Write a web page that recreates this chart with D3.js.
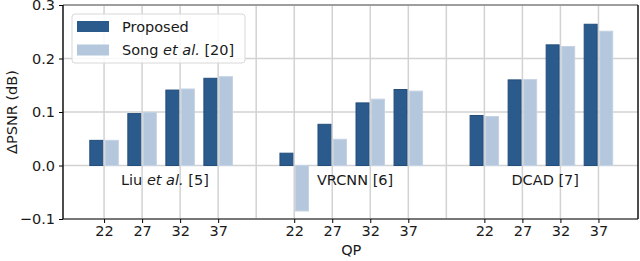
<!DOCTYPE html>
<html>
<head>
<meta charset="utf-8">
<script src="https://cdn.jsdelivr.net/npm/d3@7"></script>
<style>
  body { margin: 0; background: #fff; }
  text { font-family: "DejaVu Sans", sans-serif; fill: #1a1a1a; }
</style>
</head>
<body>
<script>
// data
const groups = ["Liu", "VRCNN", "DCAD"];
const groupLabels = [["Liu ", "et al.", " [5]"], ["VRCNN [6]"], ["DCAD [7]"]];
const qps = ["22", "27", "32", "37"];
const proposed = [0.047, 0.097, 0.141, 0.163,  0.023, 0.077, 0.117, 0.142,  0.0935, 0.160, 0.2255, 0.264];
const song     = [0.047, 0.099, 0.143, 0.166, -0.085, 0.049, 0.124, 0.139,  0.0915, 0.1605, 0.2225, 0.251];
const yTicks = [-0.1, 0.0, 0.1, 0.2, 0.3];

const WIDTH = 640, HEIGHT = 261;
const M = { top: 5, right: 2, bottom: 42, left: 63 };

const svg = d3.select('body').append('svg')
  .attr('width', WIDTH).attr('height', HEIGHT);

// x positions: 4 QPs per group, one empty slot between groups
const slots = [];
groups.forEach((g, gi) => qps.forEach((q, qi) => slots.push({ g: gi, q: q, pos: gi * 5 + qi })));
const allPos = d3.range(0, 14);

const x = d3.scaleLinear().domain([-1.08, 14.04]).range([M.left, WIDTH - M.right]);
const y = d3.scaleLinear().domain([-0.1, 0.3]).range([HEIGHT - M.bottom, M.top]);

const colProp = '#2b5a8d', colSong = '#b5c7dc';
const bw = 0.34, off = 0.205;

// grid
svg.append('g').selectAll('line').data(allPos).enter().append('line')
  .attr('x1', d => x(d)).attr('x2', d => x(d))
  .attr('y1', y(0.3)).attr('y2', y(-0.1))
  .attr('stroke', '#d2d2d2').attr('stroke-width', 1.5);
svg.append('g').selectAll('line').data(yTicks).enter().append('line')
  .attr('x1', M.left).attr('x2', WIDTH - M.right)
  .attr('y1', d => y(d)).attr('y2', d => y(d))
  .attr('stroke', '#d2d2d2').attr('stroke-width', 1.5);

// bars
const bars = svg.append('g');
bars.selectAll('rect.p').data(slots).enter().append('rect')
  .attr('class', 'p')
  .attr('x', (d, i) => x(d.pos - off - bw / 2))
  .attr('width', x(bw) - x(0))
  .attr('y', (d, i) => y(Math.max(0, proposed[i])))
  .attr('height', (d, i) => Math.abs(y(proposed[i]) - y(0)))
  .attr('fill', colProp).attr('stroke', '#234d7a').attr('stroke-width', 1);
bars.selectAll('rect.s').data(slots).enter().append('rect')
  .attr('class', 's')
  .attr('x', (d, i) => x(d.pos + off - bw / 2))
  .attr('width', x(bw) - x(0))
  .attr('y', (d, i) => y(Math.max(0, song[i])))
  .attr('height', (d, i) => Math.abs(y(song[i]) - y(0)))
  .attr('fill', colSong).attr('stroke', '#c3d2e4').attr('stroke-width', 1);

// group labels
groupLabels.forEach((parts, gi) => {
  const t = svg.append('text')
    .attr('x', x(gi * 5 + 1.5 + 0.1)).attr('y', 185)
    .attr('text-anchor', 'middle').attr('font-size', '14.5px');
  parts.forEach(p => {
    t.append('tspan').text(p).attr('font-style', p === 'et al.' ? 'italic' : null);
  });
});

// spines
svg.append('line').attr('x1', M.left).attr('x2', WIDTH - M.right)
  .attr('y1', y(0.3)).attr('y2', y(0.3)).attr('stroke', '#888').attr('stroke-width', 1.5);
svg.append('line').attr('x1', M.left).attr('x2', WIDTH - M.right)
  .attr('y1', y(-0.1)).attr('y2', y(-0.1)).attr('stroke', '#555').attr('stroke-width', 1.5);
svg.append('line').attr('x1', M.left).attr('x2', M.left)
  .attr('y1', y(0.3)).attr('y2', y(-0.1)).attr('stroke', '#111').attr('stroke-width', 1.5);
svg.append('line').attr('x1', WIDTH - M.right).attr('x2', WIDTH - M.right)
  .attr('y1', y(0.3)).attr('y2', y(-0.1)).attr('stroke', '#111').attr('stroke-width', 1.5);

// axes
const xAxis = d3.axisBottom(x).tickValues(slots.map(d => d.pos))
  .tickFormat((d, i) => slots[i].q).tickSize(4).tickPadding(3);
const gx = svg.append('g').attr('transform', `translate(0,${y(-0.1)})`).call(xAxis);
gx.select('.domain').remove();
gx.selectAll('text').attr('font-size', '14.5px').attr('font-family', 'DejaVu Sans').attr('fill', '#1a1a1a');

const yAxis = d3.axisLeft(y).tickValues(yTicks)
  .tickFormat(d => d3.format('.1f')(d).replace('-', '\u2212')).tickSize(4).tickPadding(4);
const gy = svg.append('g').attr('transform', `translate(${M.left},0)`).call(yAxis);
gy.select('.domain').remove();
gy.selectAll('text').attr('font-size', '14.5px').attr('font-family', 'DejaVu Sans').attr('fill', '#1a1a1a');

// axis titles
svg.append('text').attr('x', x(6.5)).attr('y', 255)
  .attr('text-anchor', 'middle').attr('font-size', '14.5px').text('QP');
svg.append('text').attr('transform', `translate(17,${(y(0.3) + y(-0.1)) / 2}) rotate(-90)`)
  .attr('text-anchor', 'middle').attr('font-size', '14.5px').text('\u0394PSNR (dB)');

// legend
const lg = svg.append('g').attr('transform', 'translate(72,14)');
lg.append('rect').attr('width', 173).attr('height', 49).attr('rx', 3)
  .attr('fill', 'rgba(255,255,255,0.85)').attr('stroke', '#d8d8d8');
const items = [{ c: colProp, parts: ['Proposed'] }, { c: colSong, parts: ['Song ', 'et al.', ' [20]'] }];
items.forEach((it, i) => {
  lg.append('rect').attr('x', 5).attr('y', 7 + i * 23.5).attr('width', 32).attr('height', 11).attr('fill', it.c);
  const t = lg.append('text').attr('x', 50).attr('y', 17.5 + i * 23.5).attr('font-size', '14.5px');
  it.parts.forEach(p => t.append('tspan').text(p).attr('font-style', p === 'et al.' ? 'italic' : null));
});
</script>
</body>
</html>
